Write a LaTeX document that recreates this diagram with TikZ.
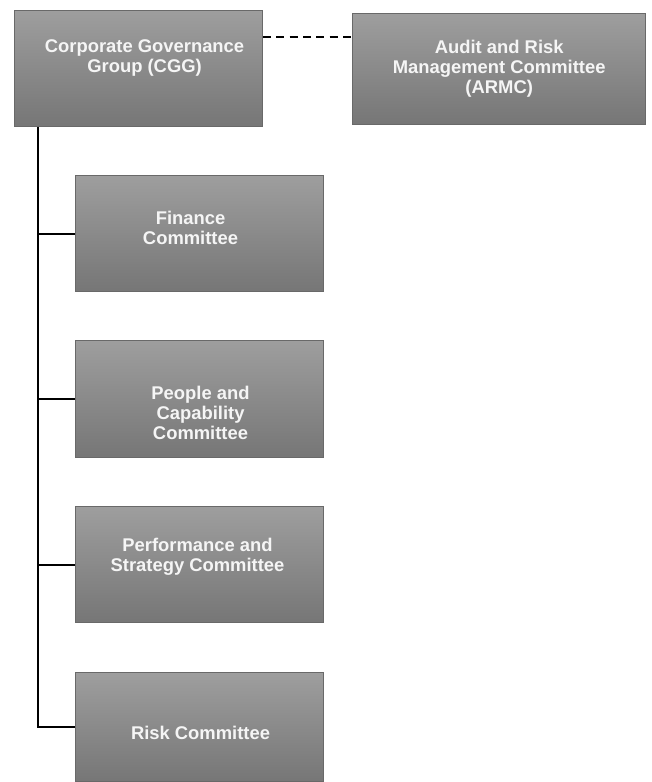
\documentclass[tikz,border=0pt]{standalone}
\usepackage{fontspec}
\setmainfont{Liberation Sans}
\usetikzlibrary{positioning}
\definecolor{boxtop}{RGB}{158,158,158}
\definecolor{boxbot}{RGB}{118,118,118}
\definecolor{boxedge}{RGB}{105,105,105}
\definecolor{boxtext}{RGB}{245,245,245}
\tikzset{
  unitbox/.style={draw=boxedge,line width=0.8pt,top color=boxtop,bottom color=boxbot,
    minimum width=186pt,minimum height=87pt,inner sep=0pt,anchor=north west},
  unittext/.style={text=boxtext,font=\bfseries\fontsize{13.8}{15}\selectfont,
    align=center,inner sep=0pt},
  trunkline/.style={line width=1.5pt,black},
  linkline/.style={line width=1.1pt,black,dash pattern=on 6pt off 4pt}
}
\begin{document}
\begin{tikzpicture}[x=0.75pt,y=0.75pt,yscale=-1,xscale=1]
\useasboundingbox (0,0) rectangle (651,782);

% top level
\node [unitbox] (cgg) at (14,10) {};
\node [unitbox,minimum width=220pt,minimum height=83pt] (armc) at (352,13) {};

% committees
\node [unitbox] (fin) at (75,175) {};
\node [unitbox,minimum height=88pt] (ppl) at (75,340) {};
\node [unitbox] (perf) at (75,506) {};
\node [unitbox,minimum height=82pt] (risk) at (75,672) {};

% box texts
\node [unittext] (cgg-t) at ([shift={(6,-11)}]cgg.center) {Corporate Governance\\Group (CGG)};
\node [unittext] (armc-t) at (armc.center) {Audit and Risk\\Management Committee\\(ARMC)};
\node [unittext] (fin-t) at ([shift={(-9,-6)}]fin.center) {Finance\\Committee};
\node [unittext] (ppl-t) at ([shift={(1,14)}]ppl.center) {People and\\Capability\\Committee};
\node [unittext] (perf-t) at ([shift={(-2,-8)}]perf.center) {Performance and\\Strategy Committee};
\node [unittext] (risk-t) at ([shift={(1,6)}]risk.center) {Risk Committee};

% connectors
\coordinate (trunk) at (38,127);
\draw [linkline] (cgg.east |- 0,37) -- (armc.west |- 0,37);
\draw [trunkline] (trunk) |- (risk.west);
\draw [trunkline] (trunk |- fin.west) -- (fin.west);
\draw [trunkline] (trunk |- ppl.west) -- (ppl.west);
\draw [trunkline] (trunk |- perf.west) -- (perf.west);

\end{tikzpicture}
\end{document}
